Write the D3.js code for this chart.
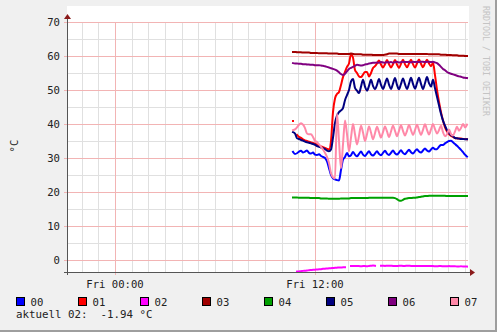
<!DOCTYPE html>
<html>
<head>
<meta charset="utf-8">
<script src="https://cdnjs.cloudflare.com/ajax/libs/d3/7.8.5/d3.min.js"></script>
<style>
  html, body { margin: 0; padding: 0; background: #f0f0f0; }
  svg text { font-family: "DejaVu Sans Mono", monospace; }
</style>
</head>
<body>
<div id="graph"></div>
<script>
// sample times, hours relative to Fri 00:00 (one sample every 0.12 h)
var times = d3.range(88).map(function (i) { return 10.68 + i * 0.12; });

var names = ['00', '01', '02', '03', '04', '05', '06', '07'];
var colors = ['#0000ff', '#ff0000', '#ff00ff', '#a00000', '#00a000', '#000080', '#800080', '#ff88a8'];

var s00 = [31.8,31.2,31.4,31.9,32.1,31.6,31.9,32.2,31.5,31.3,31.6,31.0,30.9,31.1,30.6,30.3,
  30.0,29.0,27.0,25.0,24.0,23.7,23.5,23.4,26.5,29.5,
  30.3,31.5,30.5,30.8,31.8,31.0,30.5,31.2,31.9,31.0,30.6,31.3,32.0,31.1,30.7,31.3,32.0,31.2,
  30.8,31.5,32.1,31.3,30.9,31.5,32.2,31.4,31.0,31.6,32.3,31.5,31.1,31.8,32.4,31.7,31.3,32.0,
  32.6,31.9,31.6,32.2,32.8,32.2,31.9,32.5,33.0,32.6,32.6,33.3,33.8,33.8,34.3,34.7,35.0,35.1,
  34.6,34.1,33.6,33.0,32.4,31.7,31.0,30.4];
var s01 = [40.9,null,36.8,36.2,35.9,35.5,35.2,35.0,34.8,34.6,34.4,34.2,33.9,33.6,33.4,33.2,
  33.0,32.7,32.5,35.0,43.5,47.5,48.8,49.4,51.5,53.8,55.3,56.8,57.8,60.5,59.5,55.9,55.0,54.0,
  53.8,54.5,55.3,55.3,54.0,55.0,
  56.5,57.0,57.8,58.7,57.5,56.6,57.6,58.8,57.6,56.6,57.6,58.8,57.5,56.5,57.7,58.9,57.6,56.7,
  57.8,58.9,57.6,56.6,57.8,59.0,57.7,56.7,57.9,58.9,57.8,57.0,58.0,
  54.4,50.0,46.5,43.5,41.0,39.0,37.8,37.0,36.5,36.2,35.9,35.8,35.7,35.7,35.6,35.6,35.5];
var s02 = [null,null,
  -3.4,-3.35,-3.3,-3.2,-3.15,-3.1,-3.0,-2.95,-2.9,-2.85,-2.8,-2.75,-2.7,-2.6,-2.55,-2.5,
  -2.45,-2.4,-2.35,-2.3,-2.25,-2.2,-2.2,-2.15,-2.15,
  null,null,
  -1.8,-1.8,-1.75,-1.8,-1.8,-1.85,-1.8,-1.8,-1.85,-1.75,-1.7,-1.65,-1.7,
  null,null,
  -1.7,-1.7,-1.75,-1.7,-1.7,-1.7,-1.75,-1.75,-1.8,-1.7,-1.7,-1.75,-1.75,-1.7,-1.7,-1.75,
  -1.75,-1.75,-1.8,-1.8,-1.75,-1.75,-1.8,-1.8,-1.8,-1.8,-1.8,-1.85,-1.85,-1.8,-1.8,-1.85,
  -1.85,-1.85,-1.8,-1.85,-1.85,-1.85,-1.9,-1.9,-1.85,-1.9,-1.9,-1.94];
var s03 = [61.2,61.2,61.1,61.1,61.1,61.0,61.0,61.0,61.0,60.9,60.9,60.9,60.9,60.8,60.8,60.8,
  60.8,60.8,60.7,60.7,60.7,60.7,60.7,60.6,60.6,60.6,60.6,60.6,60.6,60.7,60.6,
  60.5,60.5,60.5,60.5,60.4,60.4,60.4,60.4,60.4,60.3,60.3,60.3,60.3,60.3,60.3,60.4,60.5,
  60.7,60.7,60.7,60.7,60.7,60.6,60.6,60.6,60.6,60.6,60.6,60.6,60.6,60.6,60.6,60.6,60.6,60.6,
  60.6,60.6,60.5,60.5,60.5,60.5,60.5,60.5,
  60.4,60.4,60.4,60.3,60.3,60.3,60.2,60.2,60.2,60.1,60.1,60.1,60.0,60.0];
var s04 = [18.4,18.4,18.4,18.3,18.3,18.3,18.3,18.3,18.3,18.2,18.2,18.2,18.2,18.2,18.1,18.1,
  18.1,18.1,18.0,18.0,18.0,
  18.0,18.0,18.0,18.1,18.1,18.1,18.1,18.1,18.2,18.2,18.2,18.2,18.2,18.2,18.2,18.2,18.2,18.3,
  18.3,18.3,18.3,18.3,18.3,18.3,18.3,18.3,18.3,18.3,18.3,18.3,
  18.2,17.9,17.5,17.4,17.7,18.0,
  18.1,18.2,18.2,18.3,18.3,18.4,18.5,18.6,18.7,18.8,18.8,18.9,18.9,18.9,
  18.9,18.9,18.9,18.9,18.9,18.9,18.8,18.8,18.8,18.8,18.8,18.8,18.8,18.8,18.8,18.8,18.8];
var s05 = [37.6,37.2,35.8,35.6,35.3,35.1,34.8,34.6,34.5,34.3,34.1,33.9,33.5,33.3,33.1,32.9,
  32.6,32.2,32.0,32.5,36.0,40.3,42.5,43.5,44.0,44.7,47.0,48.5,50.0,52.5,53.2,50.6,49.8,49.1,
  51.0,53.0,51.0,49.8,51.2,53.0,51.2,50.2,51.5,53.2,51.5,50.3,51.8,53.4,51.6,50.3,51.9,53.5,
  51.5,50.2,51.8,53.4,51.7,50.3,51.9,53.6,51.8,50.4,52.0,53.6,51.8,50.3,52.0,53.8,52.0,51.0,
  53.0,50.5,48.0,45.5,43.0,41.0,39.5,38.2,37.4,36.8,36.4,35.9,35.8,35.7,35.6,35.6,35.5,35.5];
var s06 = [57.9,57.8,57.8,57.7,57.7,57.6,57.6,57.5,57.5,57.4,57.4,57.3,57.3,57.3,57.2,57.1,
  57.0,56.8,56.6,56.4,56.2,56.0,55.7,55.2,54.7,54.4,54.8,55.5,56.2,56.5,56.8,57.1,57.4,57.3,
  57.2,57.3,57.5,57.6,57.8,57.9,58.0,
  58.0,58.1,58.0,58.2,58.1,58.0,58.2,58.1,58.2,58.0,58.2,58.3,58.1,58.2,58.3,58.2,58.2,58.3,
  58.1,58.3,58.2,58.3,58.2,58.3,58.3,58.2,58.3,58.3,58.2,58.3,
  58.1,57.9,57.4,56.8,56.2,55.8,55.3,55.0,54.8,54.6,54.4,54.2,54.0,53.9,53.7,53.6,53.5];
var s07 = [38.2,38.4,39.0,39.8,40.2,39.8,38.8,37.2,37.0,37.0,36.2,35.0,34.7,34.0,33.3,32.5,
  31.5,30.3,28.5,25.5,24.3,24.0,
  43.0,35.0,27.0,34.0,41.0,37.0,32.0,36.0,40.0,37.0,34.0,36.5,39.5,37.5,35.0,37.0,39.3,37.5,
  35.5,37.3,39.2,37.6,36.0,37.6,39.3,37.8,36.2,37.8,39.5,38.0,36.4,38.0,39.6,38.0,36.6,38.0,
  39.7,38.2,36.8,38.2,39.8,38.2,36.8,38.3,39.9,38.3,36.9,38.4,40.0,38.5,37.2,38.2,39.5,37.6,
  36.4,37.0,38.4,37.0,36.6,37.8,39.2,38.0,38.8,40.0,39.0,39.8];
var series = [s00, s01, s02, s03, s04, s05, s06, s07];

var yMajor = [0, 10, 20, 30, 40, 50, 60, 70];
var yMinor = [5, 15, 25, 35, 45, 55, 65];
var xMajor = [0, 12];
var xLabels = ['Fri 00:00', 'Fri 12:00'];
var lastLabel = 'aktuell 02:  -1.94 °C';

(function () {
  var W = 497, H = 332
    , gL = 67, gR = 467, gT = 22, gB = 272
  ;

  var x = d3.scaleLinear().domain([-2.88, 21.12]).range([gL, gR]);
  var y = d3.scaleLinear().domain([-3.53, 70]).range([gB, gT]);

  var svg = d3.select('#graph').append('svg')
    .attr('width', W).attr('height', H);

  // frame
  svg.append('rect').attr('width', W).attr('height', H).attr('fill', '#f0f0f0');
  svg.append('path').attr('d', 'M0,331H496V0').attr('fill', 'none')
    .attr('stroke', '#9e9e9e').attr('stroke-width', 2);

  // canvas
  svg.append('rect').attr('x', gL).attr('y', 6)
    .attr('width', gR - gL + 2).attr('height', gB - 6).attr('fill', '#fff');

  // grid
  var xMinor = d3.range(-2, 22).filter(function (h) { return h % 12 !== 0; });
  svg.append('g').selectAll('line').data(xMinor).enter().append('line')
    .attr('x1', function (d) { return Math.round(x(d)) + 0.5; })
    .attr('x2', function (d) { return Math.round(x(d)) + 0.5; })
    .attr('y1', gT).attr('y2', gB)
    .attr('stroke', '#e0e0e0').attr('stroke-width', 1);
  svg.append('g').selectAll('line').data(yMinor).enter().append('line')
    .attr('x1', gL).attr('x2', gR + 1)
    .attr('y1', function (d) { return Math.round(y(d)) + 0.5; })
    .attr('y2', function (d) { return Math.round(y(d)) + 0.5; })
    .attr('stroke', '#e0e0e0').attr('stroke-width', 1);
  svg.append('g').selectAll('line').data(xMajor).enter().append('line')
    .attr('x1', function (d) { return Math.round(x(d)) + 0.5; })
    .attr('x2', function (d) { return Math.round(x(d)) + 0.5; })
    .attr('y1', gT).attr('y2', gB + 3)
    .attr('stroke', '#f2b4b4').attr('stroke-width', 1);
  svg.append('g').selectAll('line').data(yMajor).enter().append('line')
    .attr('x1', gL - 3).attr('x2', gR + 1)
    .attr('y1', function (d) { return Math.round(y(d)) + 0.5; })
    .attr('y2', function (d) { return Math.round(y(d)) + 0.5; })
    .attr('stroke', '#f2b4b4').attr('stroke-width', 1);

  // series
  var line = d3.line()
    .defined(function (d) { return d[1] != null; })
    .curve(d3.curveMonotoneX)
    .x(function (d) { return x(d[0]); })
    .y(function (d) { return y(d[1]); });

  series.forEach(function (vals, k) {
    svg.append('path')
      .datum(vals.map(function (v, i) { return [times[i], v]; }))
      .attr('d', line)
      .attr('fill', 'none')
      .attr('stroke', colors[k])
      .attr('stroke-width', 2)
      .attr('stroke-linecap', 'square')
      .attr('stroke-linejoin', 'round');
  });

  // axes
  svg.append('line').attr('x1', gL - 3).attr('x2', gR + 4)
    .attr('y1', gB + 0.5).attr('y2', gB + 0.5)
    .attr('stroke', '#555').attr('stroke-width', 1);
  svg.append('line').attr('x1', gL + 0.5).attr('x2', gL + 0.5)
    .attr('y1', gB + 3).attr('y2', gT - 4)
    .attr('stroke', '#555').attr('stroke-width', 1);
  svg.append('path').attr('d', 'M' + (gR + 3) + ',' + (gB - 3) + 'l5,3.5l-5,3.5z')
    .attr('fill', '#8b1a1a');
  svg.append('path').attr('d', 'M' + (gL - 3) + ',' + (gT - 3) + 'l3.5,-5l3.5,5z')
    .attr('fill', '#8b1a1a');

  // tick labels
  svg.append('g').selectAll('text').data(yMajor).enter().append('text')
    .attr('x', 60).attr('y', function (d) { return y(d) + 4; })
    .attr('text-anchor', 'end').attr('font-size', 10.6).attr('fill', '#222')
    .text(function (d) { return d; });
  svg.append('g').selectAll('text').data(xMajor).enter().append('text')
    .attr('x', function (d) { return x(d); }).attr('y', 288)
    .attr('text-anchor', 'middle').attr('font-size', 10.6).attr('fill', '#222')
    .text(function (d, i) { return xLabels[i]; });

  // unit label
  svg.append('text').attr('transform', 'translate(18,146) rotate(-90)')
    .attr('text-anchor', 'middle').attr('font-size', 10.6).attr('fill', '#222')
    .text('°C');

  // watermark
  svg.append('text').attr('transform', 'translate(483,6) rotate(90)')
    .attr('font-size', 8.3).attr('fill', '#c4c4c4')
    .text('RRDTOOL / TOBI OETIKER');

  // legend
  var leg = svg.append('g').selectAll('g').data(names).enter().append('g')
    .attr('transform', function (d, i) { return 'translate(' + (16.5 + i * 62) + ',297.5)'; });
  leg.append('rect').attr('width', 8).attr('height', 8)
    .attr('fill', function (d, i) { return colors[i]; })
    .attr('stroke', '#000').attr('stroke-width', 1);
  leg.append('text').attr('x', 14).attr('y', 8).attr('font-size', 10.6).attr('fill', '#222')
    .text(function (d) { return d; });

  svg.append('text').attr('x', 16).attr('y', 318).attr('font-size', 10.8).attr('fill', '#222')
    .attr('xml:space', 'preserve').style('white-space', 'pre')
    .text(lastLabel);
})();
</script>
</body>
</html>
